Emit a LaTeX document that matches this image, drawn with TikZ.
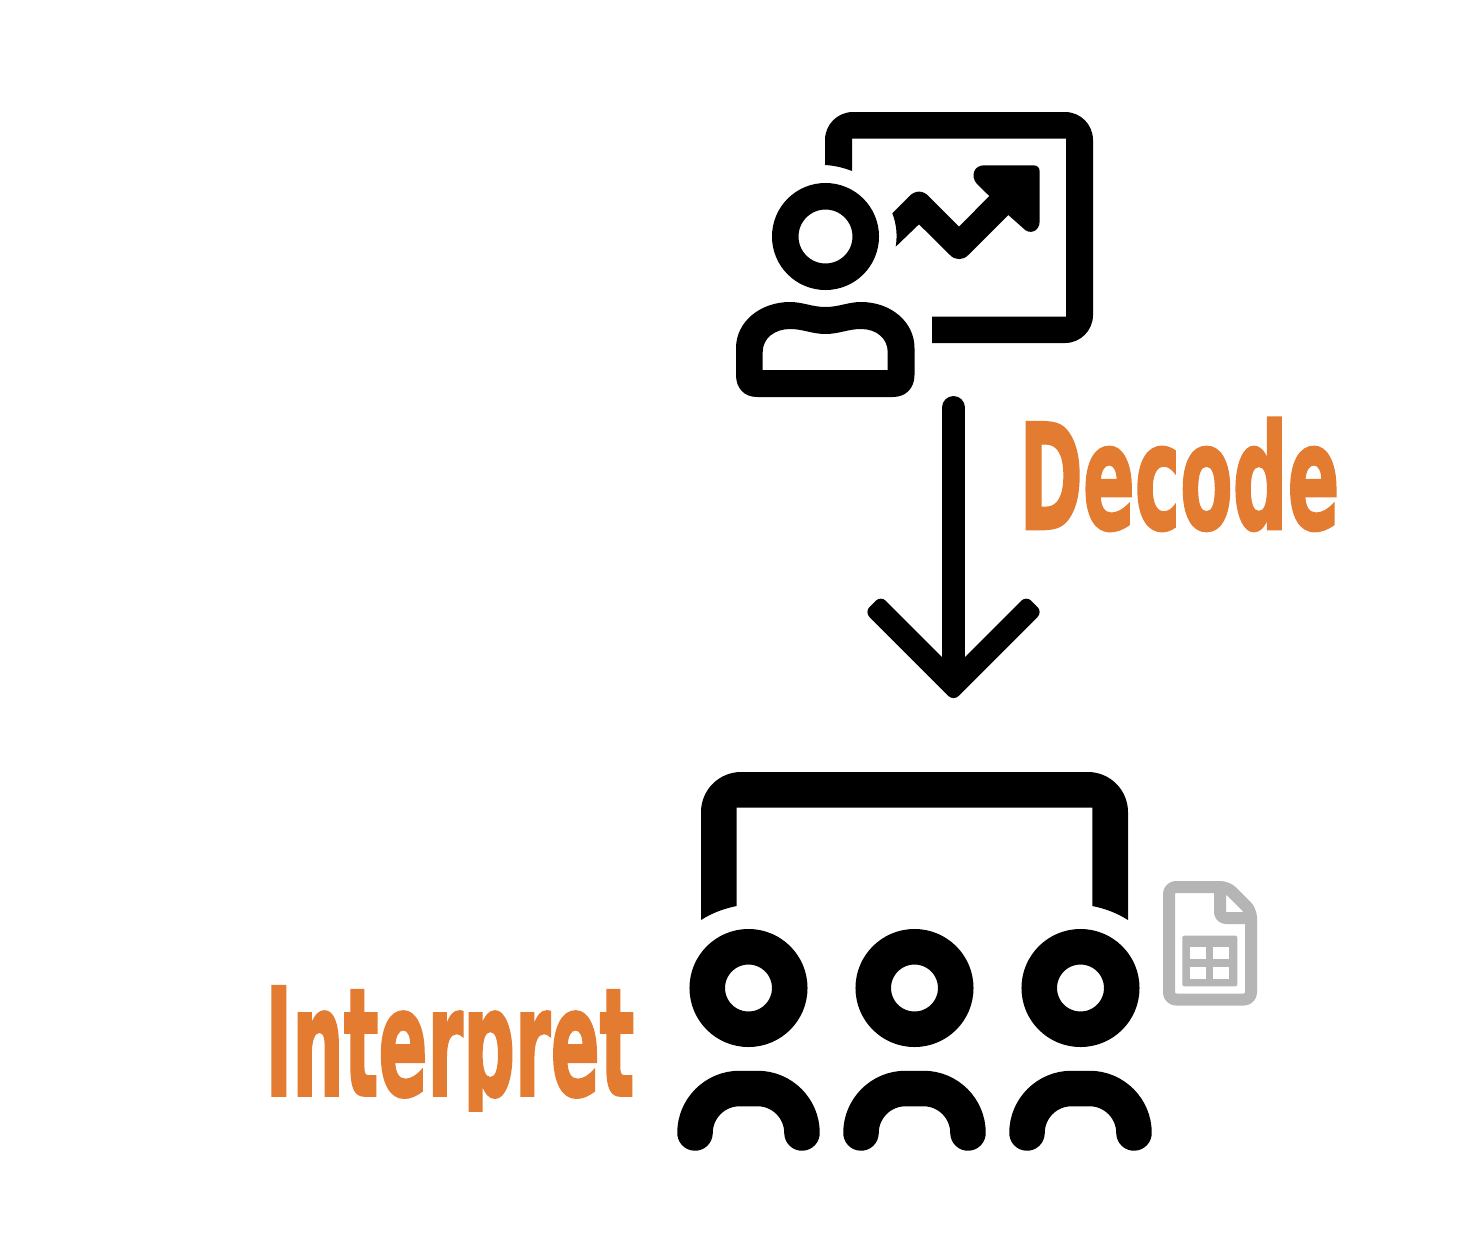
\documentclass[tikz,border=0pt]{standalone}
\usepackage{graphicx}
\usepackage{fontspec}
\newfontfamily\labelfont[BoldFeatures={FakeBold=2}]{DejaVu Sans}
\definecolor{labelorange}{HTML}{E37B31}
\definecolor{filegray}{HTML}{B5B5B5}
\usetikzlibrary{positioning}
\begin{document}
\begin{tikzpicture}[x=0.5pt,y=-0.5pt]
 \tikzset{headring/.style={draw, circle, inner sep=0pt, outer sep=0pt}}
 \tikzset{orangelabel/.style={anchor=north west, inner sep=0pt, text=labelorange}}
 \tikzset{shoulder/.style={line width=17.75pt, line cap=round, rounded corners=22.25pt}}
 \tikzset{flowline/.style={line width=11.5pt, line cap=round}}
 \tikzset{fileline/.style={draw=filegray, line width=6pt, line join=round}}
  \useasboundingbox (0,0) rectangle (1464,1238);
  \fill[white] (0,0) rectangle (1464,1238);
  \node[headring, line width=13.25pt, minimum size=40.25pt] (presenter) at (825.5,236.5) {};
  \fill[even odd rule] (736,348) .. controls (736,322) and (760,302) .. (790,302)
    .. controls (803,302) and (812,307) .. (825.5,307)
    .. controls (839,307) and (848,302) .. (861,302)
    .. controls (891,302) and (914.5,322) .. (914.5,348)
    -- (914.5,375) .. controls (914.5,388) and (906,397) .. (893,397)
    -- (757,397) .. controls (744,397) and (736,388) .. (736,375) -- cycle
    (762.7,370) -- (762.7,352) .. controls (762.7,338) and (775,329) .. (790,329)
    .. controls (803,329) and (812,334) .. (825.5,334)
    .. controls (839,334) and (848,329) .. (861,329)
    .. controls (876,329) and (887.7,338) .. (887.7,352) -- (887.7,370) -- cycle;
  \fill (825,165) -- (825,140) .. controls (825,124.5) and (837.5,112) .. (853,112)
    -- (1065,112) .. controls (1080.5,112) and (1093,124.5) .. (1093,140)
    -- (1093,315) .. controls (1093,330.5) and (1080.5,343) .. (1065,343)
    -- (932,343) -- (932,316.5) -- (1066,316.5) -- (1066,138.5) -- (852,138.5) -- (852,171)
    .. controls (843,167.5) and (834,165.5) .. (825,165) -- cycle;
  \fill (892.3,213.3) -- (909,196.5) .. controls (915,190) and (923,190) .. (929,196.5)
    -- (959,226.7) -- (989.3,196) -- (977,184) .. controls (970,176) and (974,165.3) .. (984,165.3)
    -- (1033,165.3) .. controls (1037.5,165.3) and (1039.7,167.5) .. (1039.7,172)
    -- (1039.7,221) .. controls (1039.7,232) and (1029,235) .. (1023.3,228.3)
    -- (1008.3,215) -- (968.3,255) .. controls (963,260.5) and (955,260.5) .. (950,255)
    -- (919,224.3) -- (895.7,246.7) .. controls (897.5,235) and (896.5,224) .. (892.3,213.3) -- cycle;
  \coordinate (shafttop) at (953.5,407.5);
  \coordinate (shaftend) at (953.5,680);
  \draw[flowline] (shafttop) -- (shaftend);
  \fill[rounded corners=3.5pt] (880.75,595.75) -- (864.5,612) -- (953.5,701) -- (1042.5,612)
    -- (1026.25,595.75) -- (953.5,668.5) -- cycle;
  \node[orangelabel] (decode) at (1019,417.5) {\resizebox*{160pt}{56.5pt}{\labelfont\bfseries Decode}};
  \fill (701,920) -- (701,812) .. controls (701,790) and (719,772) .. (741,772)
    -- (1088,772) .. controls (1110,772) and (1128,790) .. (1128,812)
    -- (1128,920) .. controls (1117,913) and (1105,908.5) .. (1092.3,906)
    -- (1092.3,807.7) -- (736.7,807.7) -- (736.7,906)
    .. controls (724,908.5) and (712,913) .. (701,920) -- cycle;
  \foreach \i/\cx in {1/748.5,2/914.5,3/1080.5} {
    \node[headring, line width=17.75pt, minimum size=41.25pt] (head\i) at (\cx,988) {};
    \draw[shoulder] (\cx-53.5,1133) -- (\cx-53.5,1088.5) -- (\cx+53.5,1088.5) -- (\cx+53.5,1133);
  }
  \begin{scope}
    \clip (250,970) rectangle (650,1111.7);
    \node[orangelabel] (interpret) at (265,986) {\resizebox*{184.5pt}{70pt}{\labelfont\bfseries Interpret}};
  \end{scope}
  \draw[fileline, rounded corners=3.5pt] (1227.2,887) -- (1251,910.8) -- (1251,999.5) -- (1169,999.5) -- (1169,887) -- cycle;
  \draw[fileline, rounded corners=3pt] (1220,887) -- (1220,918) -- (1251,918);
  \fill[filegray, rounded corners=1pt] (1182.3,935.7) rectangle (1237.3,986.3);
  \foreach \cellx in {1190,1213.3} {
    \foreach \celly in {947.3,967} {
      \fill[white] (\cellx,\celly) rectangle (\cellx+16,\celly+12);
    }
  }
\end{tikzpicture}
\end{document}
